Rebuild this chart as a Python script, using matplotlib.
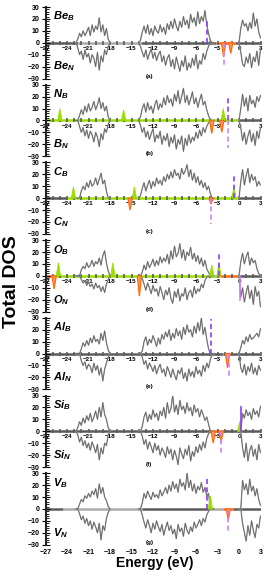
import numpy as np
import matplotlib.pyplot as plt
from matplotlib.ticker import MultipleLocator

plt.rcParams['font.family'] = ['Liberation Sans', 'DejaVu Sans']
plt.rcParams['mathtext.fontset'] = 'custom'
plt.rcParams['mathtext.it'] = 'Liberation Sans:italic:bold'
plt.rcParams['mathtext.rm'] = 'Liberation Sans:italic:bold'

# energy grid of the three band windows (eV)
STEP = 0.25
E1_START, E2_START, E3_START = -22.75, -14.0, 0.0

# ---- (a) Be ----
be_up1 = [0, 3, 8, 5, 10, 6, 9, 13, 6, 15, 9, 14, 11, 21, 9, 15, 6, 12, 3, 0]
be_dn1 = [0, -4, -10, -7, -14, -6, -12, -9, -17, -10, -13, -20, -8, -23, -11, -16, -6, -10, -3, 0]
be_up2 = [0, 2, 9, 14, 8, 15, 7, 12, 6, 14, 10, 8, 15, 9, 13, 7, 16, 11, 18, 12, 20, 14, 10, 18, 13,
          22, 15, 19, 12, 24, 17, 21, 14, 26, 16, 22, 18, 27, 15, 8, 2, 0, 0]
be_dn2 = [0, -3, -8, -12, -6, -14, -9, -5, -13, -8, -15, -10, -7, -16, -11, -19, -13, -10, -20, -14,
          -22, -12, -18, -24, -15, -20, -11, -23, -17, -21, -13, -19, -10, -22, -15, -18, -9, -14, -7, -3, 0, 0, 0]
be_up3 = [0, 12, 19, 14, 16, 10, 17, 12, 25, 14, 20, 9, 4]
be_dn3 = [0, -8, -18, -20, -12, -17, -9, -21, -12, -16, -7, -19, -5]
be_imp_up = []
be_imp_dn = [(-2.15, -12), (-1.15, -9)]
be_fermi_up = (-4.4, 20)
be_fermi_dn = (-2.15, -20)

# ---- (b) N ----
n_up1 = [0, 0, 4, 9, 5, 12, 7, 14, 8, 11, 16, 9, 13, 19, 10, 15, 8, 12, 3, 0]
n_dn1 = [0, 0, -5, -10, -6, -13, -8, -15, -9, -12, -18, -10, -14, -22, -11, -16, -7, -10, -3, 0]
n_up2 = [0, 3, 10, 14, 7, 15, 9, 12, 6, 13, 17, 9, 14, 11, 19, 13, 21, 15, 18, 12, 22, 16, 25, 14, 20,
         27, 15, 21, 13, 18, 24, 14, 19, 11, 17, 22, 13, 16, 9, 4, 0, 0, 0]
n_dn2 = [0, -4, -10, -6, -14, -9, -16, -11, -7, -18, -12, -15, -9, -20, -13, -17, -11, -22, -14, -19,
         -12, -24, -16, -20, -13, -26, -15, -21, -12, -19, -14, -17, -10, -15, -8, -13, -6, -10, -5, -2, 0, 0, 0]
n_up3 = [0, 10, 22, 12, 19, 8, 21, 14, 17, 11, 20, 16, 21]
n_dn3 = [0, -6, -17, -10, -20, -13, -8, -18, -11, -21, -9, -15, -6]
n_imp_up = [(-25.0, 10), (-16.1, 9), (-2.2, 10)]
n_imp_dn = [(-3.8, -11), (-2.4, -10)]
n_fermi_up = (-1.6, 20)
n_fermi_dn = (-1.6, -23)

# ---- (c) C ----
c_up1 = [0, 0, 0, 6, 10, 7, 13, 9, 15, 10, 12, 17, 11, 16, 21, 12, 15, 6, 0, 0]
c_dn1 = []
c_up2 = [0, 2, 8, 13, 6, 11, 15, 8, 14, 10, 17, 12, 15, 11, 18, 14, 20, 16, 22, 17, 24, 19, 21, 16, 25,
         20, 23, 28, 18, 24, 15, 21, 13, 18, 11, 15, 9, 13, 7, 10, 4, 0, 0]
c_dn2 = []
c_up3 = [0, 14, 24, 11, 19, 25, 13, 20, 15, 18, 10, 14, 11]
c_dn3 = []
c_imp_up = [(-23.1, 9.5), (-14.6, 9.5), (-0.7, 9.5)]
c_imp_dn = [(-15.2, -10), (-3.9, -5)]
c_fermi_up = (-0.7, 21)
c_fermi_dn = (-3.9, -22)

# ---- (d) O ----
o_up1 = [0, 0, 0, 5, 8, 6, 11, 7, 9, 13, 8, 12, 10, 15, 9, 17, 21, 11, 4, 0]
o_dn1 = [0, 0, 0, -3, -6, -4, -8, -5, -9, -7, -11, -6, -10, -8, -13, -9, -14, -7, -3, 0]
o_up2 = [0, 0, 3, 9, 5, 12, 7, 10, 14, 8, 13, 9, 16, 11, 15, 12, 18, 10, 21, 14, 25, 16, 19, 27, 15,
         22, 13, 20, 17, 24, 14, 19, 12, 17, 10, 15, 8, 13, 6, 3, 0, 0, 0]
o_dn2 = [0, 0, -2, -7, -12, -6, -10, -15, -8, -13, -11, -17, -9, -14, -20, -12, -16, -10, -19, -23,
         -13, -18, -11, -21, -15, -17, -10, -20, -14, -12, -18, -9, -15, -11, -13, -7, -10, -4, -1, 0, 0, 0, 0]
o_up3 = [0, 12, 19, 10, 16, 20, 9, 15, 11, 13, 6, 2, 0]
o_dn3 = [0, -18, -10, -22, -14, -8, -19, -12, -24, -9, -17, -13, -26]
o_imp_up = [(-25.2, 11), (-17.6, 11), (-3.8, 9), (-2.8, 11)]
o_imp_dn = [(-25.8, -11), (-13.9, -17)]
o_fermi_up = (-2.8, 20)
o_fermi_dn = (0.1, -20)

# ---- (e) Al ----
al_up1 = [0, 0, 0, 4, 9, 6, 11, 7, 13, 9, 15, 10, 12, 8, 17, 11, 19, 9, 3, 0]
al_dn1 = [0, 0, 0, -6, -10, -7, -13, -9, -11, -16, -8, -14, -10, -18, -12, -23, -13, -8, -3, 0]
al_up2 = [0, 0, 2, 10, 14, 7, 12, 9, 15, 11, 6, 13, 8, 16, 12, 18, 14, 20, 11, 17, 13, 21, 15, 19, 12,
          22, 16, 24, 18, 20, 14, 23, 17, 26, 19, 30, 16, 22, 12, 4, 0, 0, 0]
al_dn2 = [0, 0, -3, -9, -6, -13, -8, -11, -15, -10, -17, -12, -9, -16, -13, -19, -11, -15, -20, -13,
          -18, -22, -14, -17, -12, -21, -16, -23, -13, -19, -15, -20, -11, -17, -14, -19, -10, -15, -8, -12, -5, -1, 0]
al_up3 = [0, 5, 11, 8, 14, 10, 16, 12, 13, 15, 17, 14, 21]
al_dn3 = [0, -12, -16, -9, -18, -11, -15, -8, -17, -12, -18, -10, -14]
al_imp_up = []
al_imp_dn = [(-1.6, -12)]
al_fermi_up = (-3.9, 29)
al_fermi_dn = (-1.4, -21)

# ---- (f) Si ----
si_up1 = [0, 3, 8, 5, 11, 7, 13, 9, 15, 8, 12, 17, 10, 20, 12, 24, 14, 10, 3, 0]
si_dn1 = [0, -3, -9, -5, -12, -8, -14, -10, -16, -9, -13, -18, -11, -24, -14, -19, -10, -12, -3, 0]
si_up2 = [0, 0, 4, 12, 16, 8, 14, 10, 18, 12, 15, 9, 17, 13, 20, 11, 24, 15, 19, 30, 16, 22, 14, 26, 18,
          21, 15, 24, 17, 20, 13, 22, 16, 19, 12, 18, 14, 9, 12, 6, 0, 0, 0]
si_dn2 = [0, 0, -4, -11, -7, -15, -9, -13, -18, -10, -16, -12, -20, -14, -17, -22, -13, -19, -15, -24,
          -16, -21, -28, -14, -19, -23, -15, -20, -12, -25, -17, -21, -13, -18, -11, -16, -9, -14, -6, -2, 0, 0, 0]
si_up3 = [0, 0, 15, 11, 18, 13, 16, 10, 19, 14, 17, 12, 21]
si_dn3 = [0, 0, -14, -22, -10, -25, -16, -12, -21, -15, -24, -11, -18]
si_imp_up = [(0.1, 8)]
si_imp_dn = [(-3.6, -10), (-2.5, -9)]
si_fermi_up = (0.3, 20)
si_fermi_dn = (-2.5, -19)

# ---- (g) V ----
v_up1 = [0, 0, 4, 8, 6, 11, 9, 13, 10, 15, 12, 17, 9, 21, 13, 18, 10, 7, 2, 0]
v_dn1 = [0, 0, -4, -9, -6, -12, -8, -14, -10, -17, -11, -15, -20, -12, -26, -14, -18, -8, -3, 0]
v_up2 = [0, 0, 5, 13, 9, 15, 11, 8, 14, 10, 12, 9, 16, 11, 14, 18, 13, 20, 15, 23, 17, 21, 14, 25, 19,
         22, 16, 30, 18, 24, 15, 21, 13, 19, 16, 22, 14, 18, 11, 13, 0, 0, 0]
v_dn2 = [0, 0, -5, -11, -16, -9, -14, -20, -12, -17, -10, -15, -19, -13, -22, -16, -11, -18, -14, -21,
         -17, -25, -13, -19, -16, -23, -12, -18, -21, -15, -19, -11, -16, -13, -9, -14, -8, -11, -5, -2, 0, 0, 0]
v_up3 = [0, 0, 24, 16, 21, 12, 25, 15, 19, 11, 17, 8, 3]
v_dn3 = [0, 0, -12, -20, -27, -14, -22, -10, -18, -24, -13, -16, -6]
v_imp_up = [(-4.0, 11)]
v_imp_dn = [(-1.5, -9)]
v_fermi_up = (-4.4, 28)
v_fermi_dn = (-1.5, -21)

DARK = "#5c5c5c"
LIGHT = "#ababab"
GREEN = "#9ade00"
ORANGE = "#ff6a10"
FERMI_UP = "#8c3cff"
FERMI_DN = "#cf80ff"

panels = [
    dict(top=r"$Be_B$", bot=r"$Be_N$", tag="(a)", up=(be_up1, be_up2, be_up3), dn=(be_dn1, be_dn2, be_dn3),
         imp_up=be_imp_up, imp_dn=be_imp_dn, fu=be_fermi_up, fd=be_fermi_dn,
         zero=[(-27, -22.5, DARK), (-22.5, -13.7, LIGHT), (-13.7, -3.2, DARK), (-3.2, -0.5, ORANGE), (-0.5, 3, DARK)],
         solid=()),
    dict(top=r"$N_B$", bot=r"$B_N$", tag="(b)", up=(n_up1, n_up2, n_up3), dn=(n_dn1, n_dn2, n_dn3),
         imp_up=n_imp_up, imp_dn=n_imp_dn, fu=n_fermi_up, fd=n_fermi_dn,
         zero=[(-27, 0, GREEN), (0, 3, DARK)], solid=()),
    dict(top=r"$C_B$", bot=r"$C_N$", tag="(c)", up=(c_up1, c_up2, c_up3), dn=(c_dn1, c_dn2, c_dn3),
         imp_up=c_imp_up, imp_dn=c_imp_dn, fu=c_fermi_up, fd=c_fermi_dn,
         zero=[(-27, -24, DARK), (-24, 0, GREEN), (0, 3, DARK)], solid=()),
    dict(top=r"$O_B$", bot=r"$O_N$", tag="(d)", up=(o_up1, o_up2, o_up3), dn=(o_dn1, o_dn2, o_dn3),
         imp_up=o_imp_up, imp_dn=o_imp_dn, fu=o_fermi_up, fd=o_fermi_dn,
         zero=[(-27, -26, ORANGE), (-26, -2.7, GREEN), (-2.7, 0, ORANGE), (0, 3, DARK)], solid=("dn",)),
    dict(top=r"$Al_B$", bot=r"$Al_N$", tag="(e)", up=(al_up1, al_up2, al_up3), dn=(al_dn1, al_dn2, al_dn3),
         imp_up=al_imp_up, imp_dn=al_imp_dn, fu=al_fermi_up, fd=al_fermi_dn,
         zero=[(-27, -2.3, DARK), (-2.3, -1.0, ORANGE), (-1.0, 3, DARK)], solid=()),
    dict(top=r"$Si_B$", bot=r"$Si_N$", tag="(f)", up=(si_up1, si_up2, si_up3), dn=(si_dn1, si_dn2, si_dn3),
         imp_up=si_imp_up, imp_dn=si_imp_dn, fu=si_fermi_up, fd=si_fermi_dn,
         zero=[(-27, -4.2, DARK), (-4.2, -2.0, ORANGE), (-2.0, 3, DARK)], solid=("up",)),
    dict(top=r"$V_B$", bot=r"$V_N$", tag="(g)", up=(v_up1, v_up2, v_up3), dn=(v_dn1, v_dn2, v_dn3),
         imp_up=v_imp_up, imp_dn=v_imp_dn, fu=v_fermi_up, fd=v_fermi_dn,
         zero=[(-27, -24.5, DARK), (-24.5, -13.6, LIGHT), (-13.6, -4.2, DARK), (-4.2, -2.3, LIGHT),
               (-2.3, -0.8, ORANGE), (-0.8, 3, DARK)], solid=()),
]

W, H = 265, 580
fig = plt.figure(figsize=(W / 100, H / 100), dpi=100)
left_px, right_px = 45.5, 260.5
n = len(panels)

for i, p in enumerate(panels):
    top_px = 7 + 77.7 * i
    ax = fig.add_axes([left_px / W, 1 - (top_px + 71.5) / H, (right_px - left_px) / W, 71.5 / H])
    ax.set_xlim(-27, 3)
    ax.set_ylim(-30, 30)

    # zero line segments
    for x0, x1, col in p["zero"]:
        ax.plot([x0, x1], [0, 0], color=col, lw=1.8, solid_capstyle="butt", zorder=1)

    # total DOS curves
    starts = (E1_START, E2_START, E3_START)
    for series in (p["up"], p["dn"]):
        for start, vals in zip(starts, series):
            if len(vals) == 0:
                continue
            e = start + STEP * np.arange(len(vals))
            ax.plot(e, vals, color="#a8a8a8", lw=1.0, zorder=2)
            ax.plot(e, vals, color="#5e5e5e", lw=0.5, zorder=2.1)

    # impurity states
    for c, h in p["imp_up"]:
        ax.fill([c - 0.3, c, c + 0.3], [0, h, 0], color=GREEN, lw=0.6, zorder=3)
    for c, h in p["imp_dn"]:
        ax.fill([c - 0.3, c, c + 0.3], [0, h, 0], facecolor="#ff9a60", edgecolor=ORANGE, lw=0.9, zorder=3)

    # Fermi level markers
    for key, col, side in (("fu", FERMI_UP, "up"), ("fd", FERMI_DN, "dn")):
        x, h = p[key]
        ls = "-" if side in p["solid"] else (0, (3, 2))
        ax.plot([x, x], [0, h], color=col, lw=1.2, ls=ls, zorder=4)

    # spin labels
    ax.text(-25.9, 22, p["top"], fontsize=8, ha="left", va="center")
    ax.text(-25.9, -20, p["bot"], fontsize=8, ha="left", va="center")
    ax.text(-12.5, -28, p["tag"], fontsize=4.5, fontweight="bold", ha="center", va="center")

    # axes styling
    for s in ("top", "right"):
        ax.spines[s].set_visible(False)
    ax.spines["left"].set_linewidth(1.5)
    ax.spines["left"].set_color("#222222")
    ax.set_yticks([-30, -20, -10, 0, 10, 20, 30])
    ax.yaxis.set_minor_locator(MultipleLocator(2))
    ax.tick_params(axis="y", which="major", direction="inout", length=6, width=0.8, labelsize=5, pad=1.5)
    ax.tick_params(axis="y", which="minor", direction="in", length=2.5, width=0.6)
    ax.xaxis.set_major_locator(MultipleLocator(3))

    if i < n - 1:
        ax.spines["bottom"].set_position(("data", 0))
        ax.spines["bottom"].set_color("none")
        ax.xaxis.set_minor_locator(MultipleLocator(1))
        ax.tick_params(axis="x", which="both", direction="inout", length=2.5, width=1.2,
                       color=DARK, labelsize=4.5, pad=1)
    else:
        ax.spines["bottom"].set_color("none")
        ax.tick_params(axis="x", which="both", length=0, labelsize=5, pad=3)

    for lab in ax.get_xticklabels() + ax.get_yticklabels():
        lab.set_fontweight("bold")

fig.text(0.045, 0.515, "Total DOS", rotation=90, fontsize=14, fontweight="bold", ha="center", va="center")
fig.text(0.585, 0.029, "Energy (eV)", fontsize=10, fontweight="bold", ha="center", va="center")

fig.savefig("out.png", dpi=100)
